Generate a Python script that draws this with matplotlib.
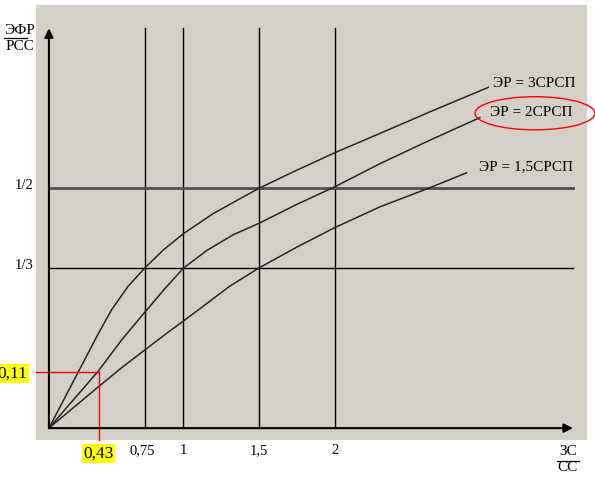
import matplotlib.pyplot as plt
from matplotlib.patches import Rectangle, Ellipse

plt.rcParams["font.family"] = ["Liberation Serif", "DejaVu Serif"]

# schematic axes: origin of the drawing sits at x = X0
X0 = 0.118
X_TOP = 3.566
Y_TOP = 0.833

x_ticks = [0.75, 1, 1.5, 2]
x_tick_labels = ["0,75", "1", "1,5", "2"]
y_ticks = [1 / 3, 1 / 2]
y_tick_labels = ["1/3", "1/2"]

# curves
er3_x = [0.118, 0.311, 0.443, 0.531, 0.640, 0.75, 0.870, 1.002, 1.199,
         1.375, 1.502, 1.726, 2.0, 2.296, 2.625, 3.009]
er3_y = [0.0, 0.117, 0.197, 0.247, 0.296, 0.334, 0.371, 0.405, 0.447,
         0.478, 0.500, 0.534, 0.574, 0.614, 0.659, 0.710]

er2_x = [0.118, 0.443, 0.597, 0.745, 0.882, 1.002, 1.156, 1.331, 1.502,
         1.748, 2.0, 2.296, 2.625, 2.954]
er2_y = [0.0, 0.119, 0.184, 0.240, 0.291, 0.333, 0.370, 0.403, 0.427,
         0.466, 0.503, 0.551, 0.600, 0.647]

er15_x = [0.118, 0.443, 0.597, 0.745, 0.903, 1.002, 1.112, 1.309, 1.502,
          1.748, 2.0, 2.296, 2.625, 2.866]
er15_y = [0.0, 0.086, 0.126, 0.162, 0.200, 0.223, 0.249, 0.296, 0.334,
          0.377, 0.418, 0.461, 0.501, 0.532]

curve_labels = ["ЭР = 3СРСП", "ЭР = 2СРСП", "ЭР = 1,5СРСП"]

mark_x, mark_y = 0.445, 0.117
mark_x_label, mark_y_label = "0,43", "0,11"

fig = plt.figure(figsize=(5.95, 4.79), dpi=100)
ax = fig.add_axes([0, 0, 1, 1])
ax.set_xlim(-0.204, 3.711)
ax.set_ylim(-0.106, 0.892)
ax.axis("off")

# grey panel
ax.add_patch(Rectangle((0.033, -0.025), 3.625, 0.906, facecolor="#d4d0c8",
                       edgecolor="none", zorder=0))

# grid
for xv in x_ticks:
    ax.plot([xv, xv], [0, Y_TOP], color="black", lw=1.0, zorder=1)
ax.plot([X0, X_TOP], [y_ticks[0]] * 2, color="black", lw=1.0, zorder=1)
ax.plot([X0, X_TOP], [y_ticks[1]] * 2, color="#505050", lw=2.0, zorder=1)

# axes with arrows
arrow = dict(arrowstyle="-|>", lw=1.5, color="black", mutation_scale=13,
             shrinkA=0, shrinkB=0)
ax.annotate("", xy=(X0, Y_TOP), xytext=(X0, 0), arrowprops=arrow, zorder=3)
ax.annotate("", xy=(X_TOP, 0), xytext=(X0, 0), arrowprops=arrow, zorder=3)

# curves
for xs, ys in [(er3_x, er3_y), (er2_x, er2_y), (er15_x, er15_y)]:
    ax.plot(xs, ys, color="#262626", lw=1.1, zorder=2,
            solid_joinstyle="round")

# red marker lines
ax.plot([0.033, mark_x], [mark_y, mark_y], color="red", lw=1.0, zorder=2)
ax.plot([mark_x, mark_x], [mark_y, -0.025], color="red", lw=1.0, zorder=2)

# tick labels
for xv, lab in zip(x_ticks, x_tick_labels):
    ax.text(xv - (0.02 if xv == 0.75 else 0), -0.046, lab, fontsize=10.5,
            ha="center", va="center")
for yv, lab in zip(y_ticks, y_tick_labels):
    ax.text(-0.046, yv + 0.005, lab, fontsize=10.5, ha="center", va="center")

hl = dict(facecolor="yellow", edgecolor="none", pad=1.0)
ax.text(mark_x, -0.053, mark_x_label, fontsize=12.5, ha="center", va="center",
        bbox=hl)
ax.text(-0.022, mark_y - 0.004, mark_y_label, fontsize=12.5, ha="right",
        va="center", bbox=hl)

# axis titles as fractions
ax.text(-0.072, 0.829, "ЭФР", fontsize=11, ha="center", va="center")
ax.plot([-0.178, -0.026], [0.8125, 0.8125], color="black", lw=0.9)
ax.text(-0.072, 0.795, "РСС", fontsize=11, ha="center", va="center")

ax.text(3.533, -0.049, "ЗС", fontsize=11, ha="center", va="center")
ax.plot([3.461, 3.605], [-0.068, -0.068], color="black", lw=0.9)
ax.text(3.533, -0.083, "СС", fontsize=11, ha="center", va="center")

# curve labels
ax.text(3.039, 0.719, curve_labels[0], fontsize=11, ha="left", va="center")
ax.text(3.020, 0.658, curve_labels[1], fontsize=11, ha="left", va="center")
ax.text(2.947, 0.544, curve_labels[2], fontsize=11, ha="left", va="center")

ax.add_patch(Ellipse((3.316, 0.656), 0.789, 0.069, facecolor="none",
                     edgecolor="red", lw=1.0, clip_on=False, zorder=4))

fig.savefig("out.png", dpi=100)
